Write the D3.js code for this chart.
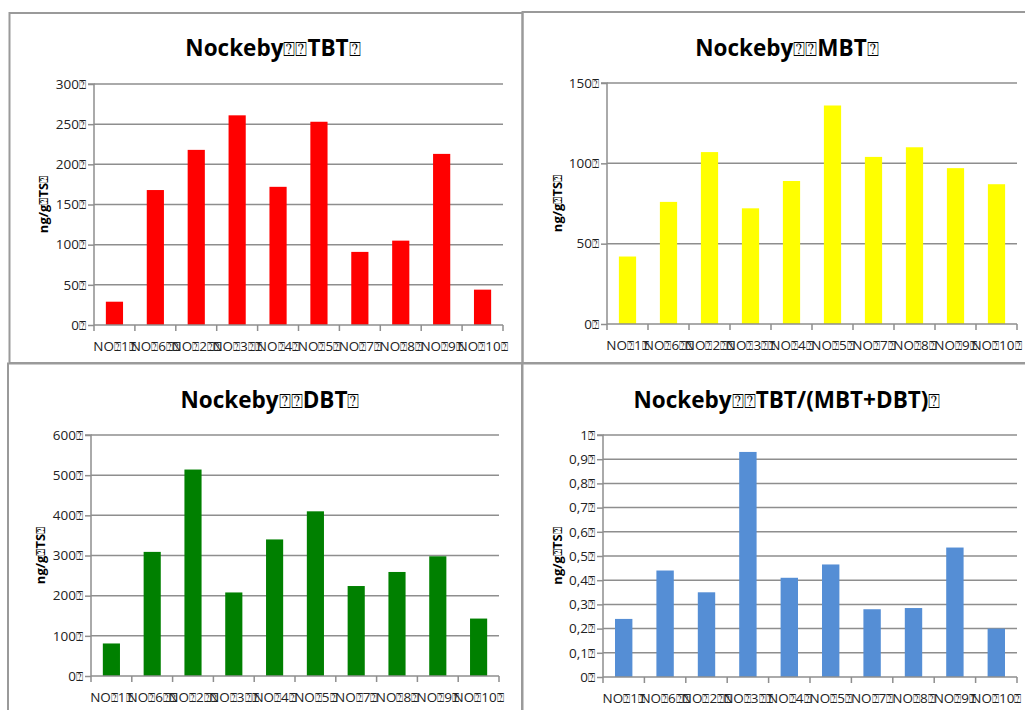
<!DOCTYPE html>
<html><head><meta charset="utf-8">
<script src="https://cdn.jsdelivr.net/npm/d3@7"></script>
<style>
html,body{margin:0;padding:0;background:#fff;}
svg{display:block;}
text{font-family:"Open Sans","DejaVu Sans",sans-serif;}
</style></head>
<body>
<svg id="chart" width="1025" height="710"></svg>
<script>
const T = "\u2370"; // box glyph shown for unrenderable characters
const categories = ["NO"+T+"1"+T, "NO"+T+"6"+T+T, "NO"+T+"2"+T+T, "NO"+T+"3"+T+T, "NO"+T+"4"+T,
                    "NO"+T+"5"+T, "NO"+T+"7"+T, "NO"+T+"8"+T, "NO"+T+"9"+T, "NO"+T+"10"+T];
const tbtValues   = [29, 168, 218, 261, 172, 253, 91, 105, 213, 44];
const mbtValues   = [42, 76, 107, 72, 89, 136, 104, 110, 97, 87];
const dbtValues   = [81, 309, 514, 208, 340, 410, 224, 259, 298, 143];
const ratioValues = [0.24, 0.44, 0.35, 0.93, 0.41, 0.465, 0.28, 0.285, 0.535, 0.20];
const tbtTicks   = [0, 50, 100, 150, 200, 250, 300];
const mbtTicks   = [0, 50, 100, 150];
const dbtTicks   = [0, 100, 200, 300, 400, 500, 600];
const ratioTicks = [0, 0.1, 0.2, 0.3, 0.4, 0.5, 0.6, 0.7, 0.8, 0.9, 1];
const titles = ["Nockeby"+T+T+"TBT"+T, "Nockeby"+T+T+"MBT"+T, "Nockeby"+T+T+"DBT"+T, "Nockeby"+T+T+"TBT/(MBT+DBT)"+T];
const yTitle = "ng/g"+T+"TS"+T;

const panels = [
  {title:titles[0], values:tbtValues, ticks:tbtTicks, color:"#ff0000",
   frame:[9.5,13,513,350], plot:[94,84,503,325], tx:273, ty:56, lx:43},
  {title:titles[1], values:mbtValues, ticks:mbtTicks, color:"#ffff00",
   frame:[522.5,12,520,351], plot:[607,83,1017,324], tx:787, ty:56, lx:557},
  {title:titles[2], values:dbtValues, ticks:dbtTicks, color:"#008000",
   frame:[8,363.5,514,360], plot:[91,435,499,676], tx:270, ty:408, lx:40},
  {title:titles[3], values:ratioValues, ticks:ratioTicks, color:"#558ed5",
   frame:[522.5,363.5,520,360], plot:[603,435,1017,677], tx:787, ty:408, lx:557}
];

const svg = d3.select("#chart");
const grid = "#8e8e8e";
const fmt = v => String(v).replace(".", ",") + T;

// render a string with the box glyph drawn narrow, like the reference's missing-glyph boxes
function boxText(sel, tofuSize) {
  sel.each(function() {
    const t = d3.select(this);
    const s = t.text();
    t.text(null);
    s.split(/(\u2370)/).filter(d => d.length).forEach(part => {
      const sp = t.append("tspan").text(part);
      if (part === T) sp.style("font-size", tofuSize + "px").style("font-weight", "normal");
    });
  });
}

panels.forEach(p => {
  const g = svg.append("g");
  const [x0,y0,x1,y1] = p.plot;
  const x = d3.scaleBand().domain(categories).range([x0,x1]).paddingInner(0.58).paddingOuter(0.29);
  const xb = d3.scaleBand().domain(categories).range([x0,x1]);
  const y = d3.scaleLinear().domain([0, d3.max(p.ticks)]).range([y1,y0]);

  // gridlines
  g.selectAll("line.grid").data(p.ticks.slice(1)).join("line")
    .attr("x1", x0).attr("x2", x1).attr("y1", d=>y(d)).attr("y2", d=>y(d))
    .attr("stroke", grid).attr("stroke-width", 1.5);

  // bars
  g.selectAll("rect.bar").data(p.values).join("rect")
    .attr("x", (d,i)=>x(categories[i])).attr("width", x.bandwidth())
    .attr("y", d=>y(d)).attr("height", d=>y(0)-y(d))
    .attr("fill", p.color);

  // y axis
  const ya = d3.axisLeft(y).tickValues(p.ticks).tickFormat(fmt).tickSize(6).tickPadding(2);
  const yg = g.append("g").attr("transform", `translate(${x0},0)`).call(ya);
  yg.select(".domain").attr("stroke", grid).attr("stroke-width", 1.5).attr("d", `M-6,${y0}H0V${y1}`);
  yg.selectAll(".tick line").attr("stroke", grid).attr("stroke-width", 1.5);
  yg.selectAll(".tick text").attr("fill", "#222").style("font-size", "13.5px").style("font-family", '"Open Sans",sans-serif')
    .call(boxText, 12);

  // x axis
  const xa = d3.axisBottom(xb).tickSize(0).tickPadding(16);
  const xg = g.append("g").attr("transform", `translate(0,${y1})`).call(xa);
  xg.select(".domain").attr("stroke", grid).attr("stroke-width", 1.5).attr("d", `M${x0},0H${x1}`);
  xg.selectAll(".tick text").attr("fill", "#222").style("font-size", "13.5px").style("font-family", '"Open Sans",sans-serif')
    .attr("dy", "0.71em").call(boxText, 12);
  // category boundary ticks
  g.selectAll("line.ct").data(d3.range(categories.length+1)).join("line")
    .attr("x1", i=>x0+i*xb.step()).attr("x2", i=>x0+i*xb.step())
    .attr("y1", y1).attr("y2", y1+6).attr("stroke", grid).attr("stroke-width", 1.5);

  // title
  g.append("text").attr("x", p.tx).attr("y", p.ty).attr("text-anchor","middle")
    .style("font-size","22.5px").style("font-weight","bold").attr("fill","#000").text(p.title)
    .call(boxText, 20);
  // y title
  g.append("text").attr("transform", `translate(${p.lx},${(y0+y1)/2}) rotate(-90)`)
    .attr("text-anchor","middle").attr("dy","0.35em")
    .style("font-size","13px").style("font-weight","bold").attr("fill","#000").text(yTitle)
    .call(boxText, 12);

  // frame
  const [fx,fy,fw,fh] = p.frame;
  g.append("rect").attr("x",fx).attr("y",fy).attr("width",fw).attr("height",fh)
    .attr("fill","none").attr("stroke","#9a9a9a").attr("stroke-width",2);
});
</script>
</body></html>
